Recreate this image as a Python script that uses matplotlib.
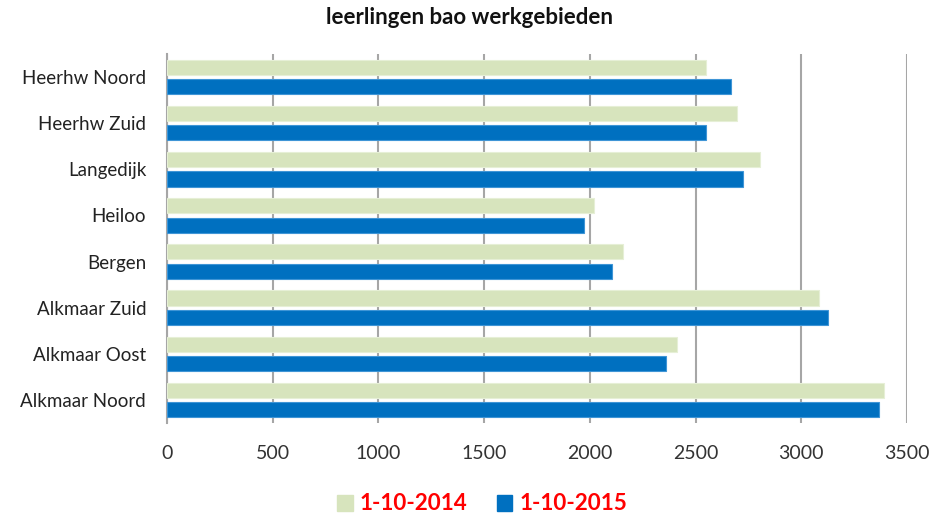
import matplotlib
matplotlib.use("Agg")
import matplotlib.pyplot as plt
import numpy as np
from matplotlib.patches import Patch

categories = ["Alkmaar Noord", "Alkmaar Oost", "Alkmaar Zuid", "Bergen",
              "Heiloo", "Langedijk", "Heerhw Zuid", "Heerhw Noord"]
series_names = ["1-10-2014", "1-10-2015"]
values_2014 = [3393, 2413, 3086, 2159, 2019, 2807, 2698, 2547]
values_2015 = [3369, 2358, 3128, 2104, 1970, 2722, 2551, 2667]
x_ticks = [0, 500, 1000, 1500, 2000, 2500, 3000, 3500]

plt.rcParams['font.family'] = ['Lato', 'DejaVu Sans']

fig = plt.figure(figsize=(9.38, 5.17), dpi=100)
ax = fig.add_axes([167/938, 1-423/517, 740/938, 369/517])

y = np.arange(len(categories))
h = 0.33
c14 = "#D7E4BD"
c15 = "#0070C0"
ax.barh(y + 0.21, values_2014, height=h, color=c14, edgecolor="#E6EFD6", linewidth=0.8, zorder=3)
ax.barh(y - 0.21, values_2015, height=h, color=c15, edgecolor="#3F95D6", linewidth=0.8, zorder=3)

ax.set_xlim(0, 3500)
ax.set_ylim(-0.5, len(categories) - 0.5)
ax.set_xticks(x_ticks)
ax.set_xticklabels([str(t) for t in x_ticks], fontsize=14, color="#333333")
ax.set_yticks(y)
ax.set_yticklabels(categories, fontsize=13.5, color="#222222")
ax.tick_params(axis='y', length=0, pad=15)
ax.tick_params(axis='x', length=0, pad=16)
ax.xaxis.grid(True, color="#A6A6A6", linewidth=1.5, zorder=0)
ax.set_axisbelow(True)
for s in ["top", "right", "bottom"]:
    ax.spines[s].set_visible(False)
ax.spines["left"].set_color("#A6A6A6")
ax.spines["left"].set_linewidth(1.5)

fig.text(0.5, 1-18/517, "leerlingen bao werkgebieden", ha="center", va="center",
         fontsize=16, fontweight="bold", color="#111111")

handles = [Patch(facecolor=c14, edgecolor=c14), Patch(facecolor=c15, edgecolor=c15)]
leg = fig.legend(handles, series_names, loc="center", bbox_to_anchor=(0.514, 1-504/517),
                 ncol=2, frameon=False, fontsize=16.2, handlelength=0.7, handleheight=0.7,
                 handletextpad=0.3, columnspacing=1.3)
for t in leg.get_texts():
    t.set_color("#FF0000")
    t.set_fontweight("bold")

fig.savefig("out.png", dpi=100)
